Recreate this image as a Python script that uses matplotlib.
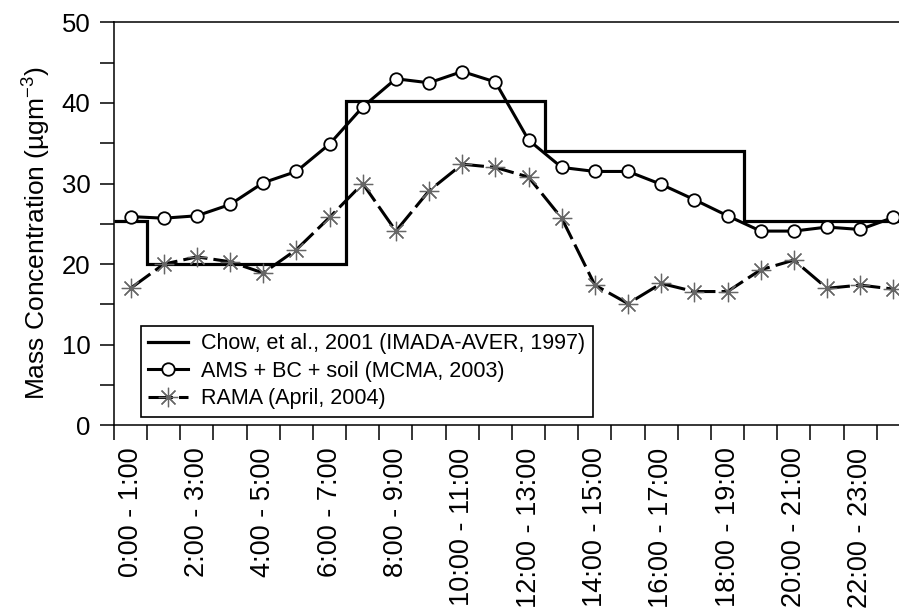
import matplotlib
matplotlib.use('Agg')
import matplotlib.pyplot as plt
from matplotlib.ticker import MultipleLocator
import numpy as np

plt.rcParams['font.family'] = ['Liberation Sans', 'DejaVu Sans']
plt.rcParams['mathtext.fontset'] = 'custom'
plt.rcParams['mathtext.rm'] = 'Liberation Sans'

# hourly bins 0:00-1:00 ... 23:00-24:00
tick_labels = ['0:00 - 1:00', '2:00 - 3:00', '4:00 - 5:00', '6:00 - 7:00',
               '8:00 - 9:00', '10:00 - 11:00', '12:00 - 13:00', '14:00 - 15:00',
               '16:00 - 17:00', '18:00 - 19:00', '20:00 - 21:00', '22:00 - 23:00']

# Chow, et al., 2001 (6-hour averages)
chow = [25.4, 20.0, 20.0, 20.0, 20.0, 20.0, 20.0, 40.3, 40.3, 40.3, 40.3, 40.3,
        40.3, 34.0, 34.0, 34.0, 34.0, 34.0, 34.0, 25.4, 25.4, 25.4, 25.4, 25.4]

# AMS + BC + soil
ams = [25.9, 25.7, 26.0, 27.4, 30.1, 31.5, 34.9, 39.5, 43.0, 42.5, 43.9, 42.6,
       35.4, 32.0, 31.5, 31.5, 29.9, 28.0, 26.0, 24.1, 24.1, 24.6, 24.3, 25.8]

# RAMA
rama = [17.0, 20.0, 20.9, 20.3, 18.9, 21.8, 25.8, 30.0, 24.1, 29.1, 32.4, 32.0,
        30.8, 25.7, 17.4, 15.1, 17.6, 16.6, 16.6, 19.3, 20.5, 17.0, 17.4, 16.9]

edges = np.arange(len(chow) + 1)
centers = np.arange(len(ams)) + 0.5

fig = plt.figure(figsize=(8.99, 6.09), dpi=100)
ax = fig.add_axes([0.1268, 0.3016, 0.8732, 0.6617])

ax.stairs(chow, edges, baseline=None, color='black', linewidth=2.3,
          label='Chow, et al., 2001 (IMADA-AVER, 1997)')
ax.plot(centers, ams, '-o', color='black', linewidth=2.2, markersize=9,
        markerfacecolor='white', markeredgecolor='black', markeredgewidth=1.3,
        label='AMS + BC + soil (MCMA, 2003)')
ax.plot(centers, rama, color='black', linewidth=2.2, dashes=(8, 2),
        marker=(8, 2, 0), markersize=14, markeredgecolor='0.4', markeredgewidth=0.9,
        label='RAMA (April, 2004)')

ax.set_xlim(0, 23.67)
ax.set_ylim(0, 50)

for side in ['left', 'top', 'bottom']:
    ax.spines[side].set_linewidth(1.1)
ax.spines['right'].set_visible(False)

ax.yaxis.set_major_locator(MultipleLocator(10))
ax.yaxis.set_minor_locator(MultipleLocator(5))
ax.tick_params(axis='y', which='both', direction='out', length=10, width=1.1,
               labelsize=18.5, pad=7)

ax.set_xticks(edges[:-1])
ax.set_xticklabels([])
ax.set_xticks(centers[::2], minor=True)
ax.set_xticklabels(tick_labels, minor=True, rotation=90)
ax.tick_params(axis='x', which='major', direction='out', length=11, width=1.1)
ax.tick_params(axis='x', which='minor', length=0, pad=16, labelsize=19.5)

ax.set_ylabel('Mass Concentration (µgm$^{\\mathrm{-3}}$)', fontsize=19)
ax.yaxis.set_label_coords(-0.079, 0.478)

leg = ax.legend(loc='lower left', bbox_to_anchor=(0.034, 0.021), borderaxespad=0,
                fontsize=15.5, numpoints=1, handlelength=1.85, handletextpad=0.6,
                labelspacing=0.3, borderpad=0.35, fancybox=False, framealpha=1,
                edgecolor='black')
leg.get_frame().set_linewidth(1.2)

fig.savefig('out.png', dpi=100)
